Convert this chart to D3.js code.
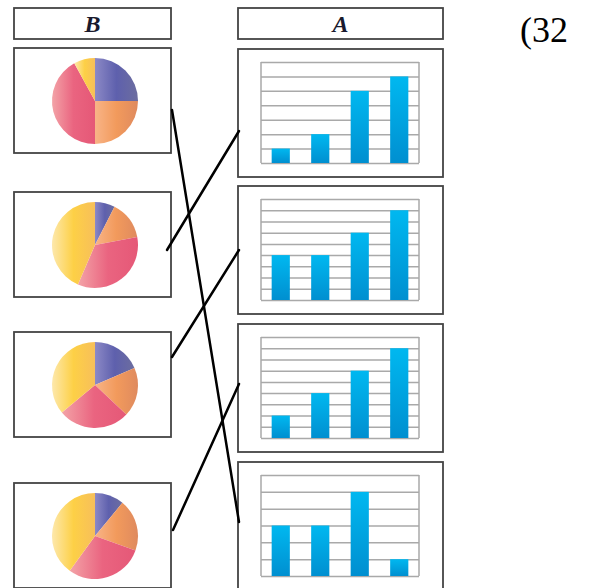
<!DOCTYPE html>
<html>
<head>
<meta charset="utf-8">
<script src="https://cdn.jsdelivr.net/npm/d3@7"></script>
<style>
  body { margin: 0; background: #fff; }
  svg { display: block; }
</style>
</head>
<body>
<svg></svg>
<script>
const size = {w: 589, h: 588};
const svg = d3.select('svg').attr('width', size.w).attr('height', size.h);

// data
const headers = ['B', 'A'];
const pieSlices = ['purple', 'orange', 'pink', 'yellow'];
const pieShares = [
  [25, 25, 42, 8],
  [7.5, 14.5, 34.5, 43.5],
  [18.5, 18.5, 27, 36],
  [11, 19.5, 29.5, 40]
];
const barCategories = ['1', '2', '3', '4'];
const barValues = [
  [1, 2, 5, 6],
  [4, 4, 6, 8],
  [2, 4, 6, 8],
  [3, 3, 5, 1]
];
const barMax = [7, 9, 9, 6];
// pie box index -> bar box index
const matches = [[0, 3], [1, 0], [2, 1], [3, 2]];
const questionNo = '(32';

// layout
const pieBoxX = 14, pieBoxW = 157, pieBoxH = 105;
const pieBoxTops = [48, 192, 332, 483];
const barBoxX = 238, barBoxW = 205, barBoxH = 128;
const barBoxTops = [49, 186, 324, 462];

const colors = {
  purple: ['#8c89c6', '#5e60ad', '#6c6d9f'],
  orange: ['#f8b487', '#f29a5c', '#df8a5e'],
  pink:   ['#f3a3a7', '#ea6480', '#e55877'],
  yellow: ['#fde8ac', '#fdd046', '#f7bf5a']
};

const defs = svg.append('defs');
Object.keys(colors).forEach(k => {
  const g = defs.append('linearGradient').attr('id', 'grad-' + k)
    .attr('x1', 0).attr('x2', 1).attr('y1', 0).attr('y2', 0);
  g.append('stop').attr('offset', 0).attr('stop-color', colors[k][0]);
  g.append('stop').attr('offset', 0.5).attr('stop-color', colors[k][1]);
  g.append('stop').attr('offset', 1).attr('stop-color', colors[k][2]);
});
const barGrad = defs.append('linearGradient').attr('id', 'grad-bar')
  .attr('x1', 0).attr('x2', 0).attr('y1', 0).attr('y2', 1);
barGrad.append('stop').attr('offset', 0).attr('stop-color', '#00b8f0');
barGrad.append('stop').attr('offset', 1).attr('stop-color', '#008fd0');

const boxStroke = '#444';

// header boxes
const headG = svg.append('g');
[[pieBoxX, pieBoxW], [barBoxX, barBoxW]].forEach((b, i) => {
  headG.append('rect')
    .attr('x', b[0]).attr('y', 8).attr('width', b[1]).attr('height', 31)
    .attr('fill', 'none').attr('stroke', boxStroke).attr('stroke-width', 1.8);
  headG.append('text')
    .attr('x', b[0] + b[1] / 2).attr('y', 32)
    .attr('text-anchor', 'middle')
    .style('font-family', '"Liberation Serif", serif')
    .style('font-weight', 'bold').style('font-style', 'italic')
    .style('font-size', '24px')
    .attr('fill', '#1a1a2e')
    .text(headers[i]);
});

svg.append('text')
  .attr('x', 520).attr('y', 42)
  .style('font-family', '"Liberation Serif", serif')
  .style('font-size', '36px')
  .attr('fill', '#000')
  .text(questionNo);

// pies
const pie = d3.pie().sort(null).value(d => d);
const arc = d3.arc().innerRadius(0).outerRadius(43);

pieShares.forEach((shares, i) => {
  const top = pieBoxTops[i];
  svg.append('rect')
    .attr('x', pieBoxX).attr('y', top).attr('width', pieBoxW).attr('height', pieBoxH)
    .attr('fill', 'none').attr('stroke', boxStroke).attr('stroke-width', 1.8);
  const g = svg.append('g').attr('transform', `translate(${pieBoxX + 81},${top + 53})`);
  g.selectAll('path')
    .data(pie(shares))
    .join('path')
    .attr('d', arc)
    .attr('fill', (d, j) => `url(#grad-${pieSlices[j]})`);
});

// bar charts
barValues.forEach((vals, i) => {
  const top = barBoxTops[i];
  svg.append('rect')
    .attr('x', barBoxX).attr('y', top).attr('width', barBoxW).attr('height', barBoxH)
    .attr('fill', 'none').attr('stroke', boxStroke).attr('stroke-width', 1.8);

  const x = d3.scaleBand().domain(barCategories)
    .range([barBoxX + 23, barBoxX + 181])
    .paddingInner(0.54).paddingOuter(0.27);
  const y = d3.scaleLinear().domain([0, barMax[i]])
    .range([top + 114, top + 13]);

  const g = svg.append('g');
  const grid = g.append('g')
    .attr('transform', `translate(${barBoxX + 23},0)`)
    .call(d3.axisLeft(y).tickValues(d3.range(0, barMax[i] + 1))
      .tickSize(-158).tickFormat(''));
  grid.select('.domain').remove();
  grid.selectAll('line').attr('stroke', '#a9a9a9').attr('stroke-width', 1.5);

  [x.range()[0], x.range()[1]].forEach(xx => {
    g.append('line')
      .attr('x1', xx).attr('x2', xx)
      .attr('y1', y(barMax[i])).attr('y2', y(0))
      .attr('stroke', '#a9a9a9').attr('stroke-width', 1.5);
  });

  g.selectAll('rect.bar')
    .data(vals)
    .join('rect')
    .attr('class', 'bar')
    .attr('x', (d, j) => x(barCategories[j]))
    .attr('width', x.bandwidth())
    .attr('y', d => y(d))
    .attr('height', d => y(0) - y(d))
    .attr('fill', 'url(#grad-bar)');
});

// hand-drawn matching lines (anchor offsets inside each box)
const lineAnchors = [
  {sx: 172, sy: 62, ex: 239, ey: 60},
  {sx: 167, sy: 58, ex: 239, ey: 82},
  {sx: 172, sy: 25, ex: 239, ey: 64},
  {sx: 173, sy: 47, ex: 239, ey: 60}
];
svg.append('g').selectAll('line')
  .data(matches)
  .join('line')
  .attr('x1', (d, i) => lineAnchors[i].sx)
  .attr('y1', (d, i) => pieBoxTops[d[0]] + lineAnchors[i].sy)
  .attr('x2', (d, i) => lineAnchors[i].ex)
  .attr('y2', (d, i) => barBoxTops[d[1]] + lineAnchors[i].ey)
  .attr('stroke', '#000').attr('stroke-width', 2.5)
  .attr('stroke-linecap', 'round');
</script>
</body>
</html>
